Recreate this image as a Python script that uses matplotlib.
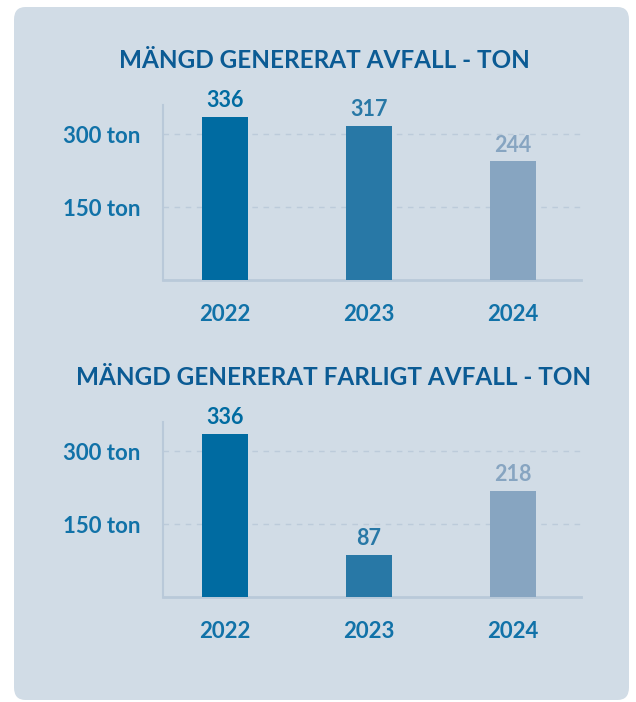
import matplotlib
matplotlib.use("Agg")
import matplotlib.pyplot as plt
from matplotlib.patches import FancyBboxPatch

years = ["2022", "2023", "2024"]
avfall = [336, 317, 244]
farligt = [336, 87, 218]
titles = ["MÄNGD GENERERAT AVFALL - TON", "MÄNGD GENERERAT FARLIGT AVFALL - TON"]
yticks = [150, 300]
ytick_labels = ["150 ton", "300 ton"]

bar_colors = ["#006ba1", "#2878a6", "#87a5c1"]
panel_color = "#d1dce6"
text_color = "#1172a8"
title_color = "#0b5b94"
axis_color = "#b9c9d9"

plt.rcParams["font.family"] = ["Lato", "DejaVu Sans"]

W, H = 636, 702
fig = plt.figure(figsize=(W / 100, H / 100), dpi=100)
fig.patch.set_facecolor("white")

panel = FancyBboxPatch((14 / W, 1 - 700 / H), 615 / W, 693 / H,
                       boxstyle="round,pad=0,rounding_size=0.018",
                       transform=fig.transFigure, facecolor=panel_color,
                       edgecolor="none", zorder=-10)
fig.patches.append(panel)


def px_axes(left, top, right, bottom):
    return fig.add_axes([left / W, 1 - bottom / H, (right - left) / W, (bottom - top) / H])


def draw_chart(ax, values, title, title_x, title_y):
    x = range(len(years))
    ax.set_facecolor("none")
    ax.bar(x, values, width=0.32, color=bar_colors, zorder=3)
    for xi, v, c in zip(x, values, bar_colors):
        ax.annotate(str(v), (xi, v), xytext=(0, 4), textcoords="offset points",
                    ha="center", va="bottom", fontsize=15.5, fontweight="bold", color=c)
    ax.set_xlim(-0.431, 2.472)
    ax.set_ylim(0, 360)
    ax.set_yticks(yticks)
    ax.set_yticklabels(ytick_labels)
    ax.set_xticks(list(x))
    ax.set_xticklabels(years)
    ax.tick_params(axis="both", length=0, labelsize=16, labelcolor=text_color)
    ax.tick_params(axis="x", pad=17)
    ax.tick_params(axis="y", pad=16.5)
    for lab in ax.get_xticklabels() + ax.get_yticklabels():
        lab.set_fontweight("bold")
    ax.grid(axis="y", linestyle=(0, (4, 4)), color="#bccbda", linewidth=1, zorder=1)
    for s in ["top", "right"]:
        ax.spines[s].set_visible(False)
    ax.spines["left"].set_color(axis_color)
    ax.spines["left"].set_linewidth(1.5)
    ax.spines["bottom"].set_color(axis_color)
    ax.spines["bottom"].set_linewidth(2)
    fig.text(title_x / W, 1 - title_y / H, title, ha="center", va="center",
             fontsize=17.5, fontweight="bold", color=title_color)


ax1 = px_axes(163, 105, 581, 280)
draw_chart(ax1, avfall, titles[0], 324, 60)

ax2 = px_axes(163, 422, 581, 597)
draw_chart(ax2, farligt, titles[1], 334, 377)

fig.savefig("out.png", dpi=100)
